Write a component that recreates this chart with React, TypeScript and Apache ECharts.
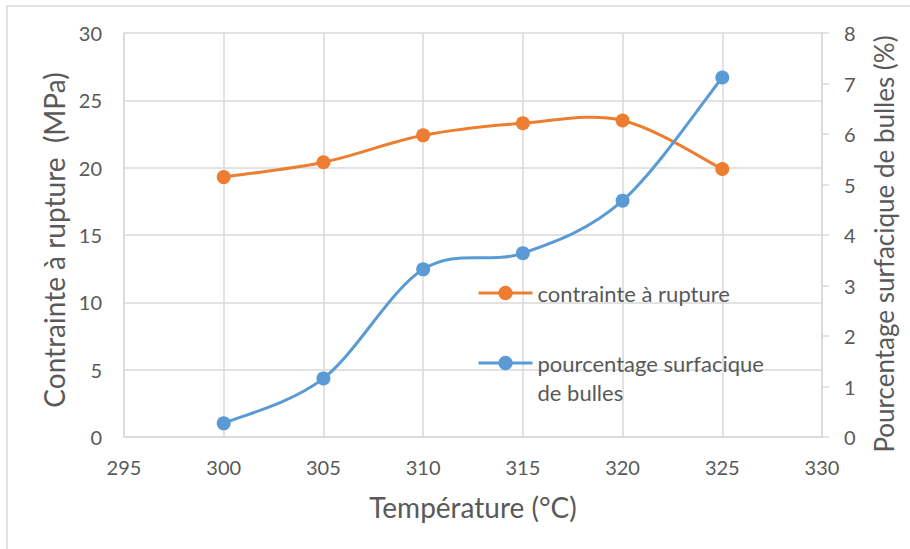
import React, { useEffect, useRef } from "react";
import * as echarts from "echarts";

const temperatures = [300, 305, 310, 315, 320, 325];
const contrainte = [19.3, 20.4, 22.4, 23.3, 23.5, 19.9];
const pourcentage = [0.27, 1.16, 3.32, 3.64, 4.68, 7.12];

const NAME_CONTRAINTE = "contrainte à rupture";
const NAME_POURCENTAGE = "pourcentage surfacique de bulles";

const FONT = "Lato, 'Open Sans', sans-serif";
const TEXT = "#595959";
const GRID = "#d9d9d9";
const ORANGE = "#ED7D31";
const BLUE = "#5B9BD5";

// Catmull-Rom style cubic path through pixel points (office-like smoothed line)
function smoothPath(pts: number[][]): string {
  let d = `M${pts[0][0]},${pts[0][1]}`;
  for (let i = 0; i < pts.length - 1; i++) {
    const p0 = pts[i - 1] || pts[i];
    const p1 = pts[i];
    const p2 = pts[i + 1];
    const p3 = pts[i + 2] || pts[i + 1];
    const c1x = p1[0] + (p2[0] - p0[0]) / 6;
    const c1y = p1[1] + (p2[1] - p0[1]) / 6;
    const c2x = p2[0] - (p3[0] - p1[0]) / 6;
    const c2y = p2[1] - (p3[1] - p1[1]) / 6;
    d += ` C${c1x},${c1y} ${c2x},${c2y} ${p2[0]},${p2[1]}`;
  }
  return d;
}

function curveSeries(values: number[], yAxisIndex: number, color: string) {
  return {
    type: "custom",
    yAxisIndex,
    silent: true,
    z: 2,
    data: [[temperatures[0], values[0]]],
    renderItem: (_params: any, api: any) => {
      const pts = temperatures.map((t, i) => api.coord([t, values[i]]));
      return {
        type: "path",
        shape: { pathData: smoothPath(pts) },
        style: { fill: "none", stroke: color, lineWidth: 3 },
      };
    },
  };
}

export default function App() {
  const ref = useRef<HTMLDivElement>(null);

  useEffect(() => {
    if (!ref.current) return;
    const chart = echarts.init(ref.current, undefined, { renderer: "svg" });

    const legendText = {
      color: TEXT,
      fontFamily: FONT,
      fontSize: 22,
      lineHeight: 29,
    };

    chart.setOption({
      animation: false,
      backgroundColor: "#fff",
      textStyle: { fontFamily: FONT },
      graphic: [
        {
          type: "rect",
          shape: { x: 7, y: 6, width: 920, height: 600 },
          style: { fill: "none", stroke: GRID, lineWidth: 1.5 },
          silent: true,
          z: -10,
        },
      ],
      grid: { left: 124, right: 88, top: 33, bottom: 112 },
      legend: [
        {
          data: [NAME_CONTRAINTE],
          orient: "vertical",
          left: 477,
          top: 278.5,
          padding: 0,
          itemWidth: 54,
          itemHeight: 18,
          lineStyle: { color: ORANGE, width: 3, opacity: 1 },
          textStyle: legendText,
        },
        {
          data: [NAME_POURCENTAGE],
          orient: "vertical",
          left: 477,
          top: 319.5,
          padding: 0,
          itemWidth: 54,
          itemHeight: 18,
          lineStyle: { color: BLUE, width: 3, opacity: 1 },
          textStyle: legendText,
          formatter: () => " \npourcentage surfacique\nde bulles",
        },
      ],
      xAxis: {
        type: "value",
        min: 295,
        max: 330,
        interval: 5,
        name: "Température (°C)",
        nameLocation: "middle",
        nameGap: 56,
        nameTextStyle: { color: TEXT, fontSize: 28, fontFamily: FONT },
        axisLine: { show: true, lineStyle: { color: GRID, width: 1.5 } },
        axisTick: { show: false },
        axisLabel: { color: TEXT, fontSize: 20, margin: 20, fontFamily: FONT },
        splitLine: { show: true, lineStyle: { color: GRID, width: 1.5 } },
      },
      yAxis: [
        {
          type: "value",
          min: 0,
          max: 30,
          interval: 5,
          position: "left",
          name: "Contrainte à rupture  (MPa)",
          nameLocation: "middle",
          nameGap: 53,
          nameTextStyle: {
            color: TEXT,
            fontSize: 28,
            fontFamily: FONT,
            padding: [0, 10, 0, 0],
          },
          axisLine: { show: true, lineStyle: { color: GRID, width: 1.5 } },
          axisTick: { show: false },
          axisLabel: { color: TEXT, fontSize: 20, margin: 22, fontFamily: FONT },
          splitLine: { show: true, lineStyle: { color: GRID, width: 1.5 } },
        },
        {
          type: "value",
          min: 0,
          max: 8,
          interval: 1,
          position: "right",
          name: "Pourcentage surfacique de bulles (%)",
          nameLocation: "middle",
          nameGap: 49,
          nameTextStyle: {
            color: TEXT,
            fontSize: 26,
            fontFamily: FONT,
            padding: [0, 18, 0, 0],
          },
          axisLine: { show: true, lineStyle: { color: GRID, width: 1.5 } },
          axisTick: { show: true, length: 7, lineStyle: { color: GRID, width: 1.5 } },
          axisLabel: { color: TEXT, fontSize: 20, margin: 22, fontFamily: FONT },
          splitLine: { show: false },
        },
      ],
      series: [
        curveSeries(contrainte, 0, ORANGE),
        curveSeries(pourcentage, 1, BLUE),
        {
          name: NAME_CONTRAINTE,
          type: "line",
          yAxisIndex: 0,
          z: 3,
          data: temperatures.map((t, i) => [t, contrainte[i]]),
          symbol: "circle",
          symbolSize: 14,
          lineStyle: { color: ORANGE, width: 3, opacity: 0 },
          itemStyle: { color: ORANGE },
        },
        {
          name: NAME_POURCENTAGE,
          type: "line",
          yAxisIndex: 1,
          z: 3,
          data: temperatures.map((t, i) => [t, pourcentage[i]]),
          symbol: "circle",
          symbolSize: 14,
          lineStyle: { color: BLUE, width: 3, opacity: 0 },
          itemStyle: { color: BLUE },
        },
      ],
    });

    return () => chart.dispose();
  }, []);

  return <div ref={ref} style={{ width: 910, height: 549, position: "absolute", left: 0, top: 0 }} />;
}
